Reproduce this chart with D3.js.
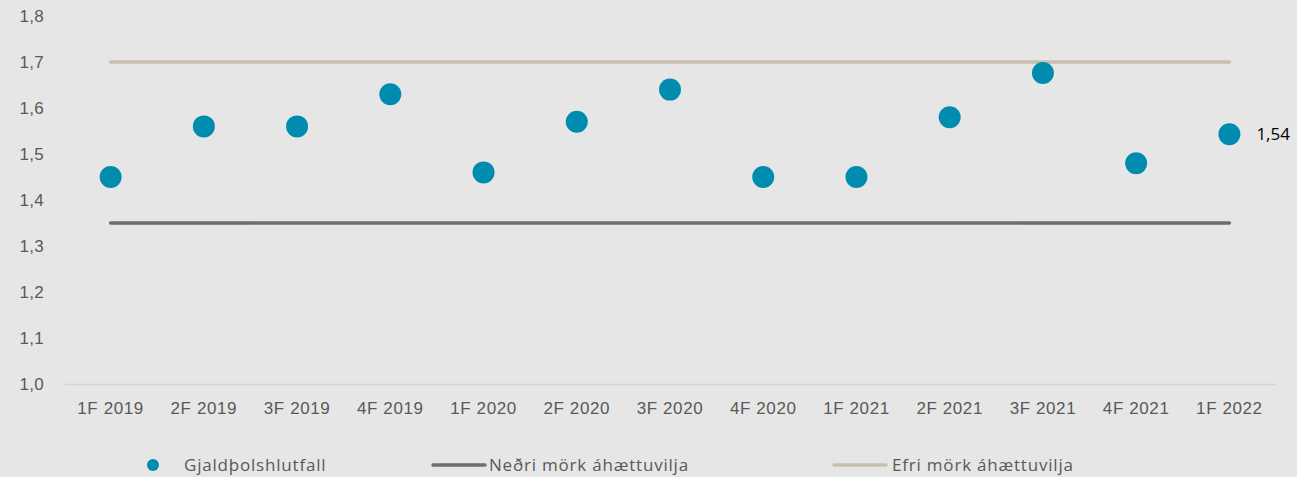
<!DOCTYPE html>
<html>
<head>
<meta charset="utf-8">
<script src="https://cdn.jsdelivr.net/npm/d3@7"></script>
<style>
  body { margin: 0; background: #e6e6e6; }
  svg { display: block; font-family: "Open Sans", "Noto Sans", sans-serif; }
</style>
</head>
<body>
<svg id="chart" width="1297" height="477"></svg>
<script>
// gögn
let categories = ['1F 2019', '2F 2019', '3F 2019', '4F 2019', '1F 2020', '2F 2020', '3F 2020', '4F 2020', '1F 2021', '2F 2021', '3F 2021', '4F 2021', '1F 2022'];
let ratio = [1.45, 1.56, 1.56, 1.63, 1.46, 1.57, 1.64, 1.45, 1.45, 1.58, 1.676, 1.48, 1.543];
let lowerLimit = [1.35, 1.35, 1.35, 1.35, 1.35, 1.35, 1.35, 1.35, 1.35, 1.35, 1.35, 1.35, 1.35];
let upperLimit = [1.7, 1.7, 1.7, 1.7, 1.7, 1.7, 1.7, 1.7, 1.7, 1.7, 1.7, 1.7, 1.7];
let yTicks = [1.0, 1.1, 1.2, 1.3, 1.4, 1.5, 1.6, 1.7, 1.8];
let seriesNames = ['Gjaldþolshlutfall', 'Neðri mörk áhættuvilja', 'Efri mörk áhættuvilja'];

const fmt = d3.format('.1f');
const comma = (v, f) => f(v).replace('.', ',');

const svg = d3.select('#chart');
svg.append('rect').attr('width', 1297).attr('height', 477).attr('fill', '#e6e6e6');

const x = d3.scaleBand().domain(categories).range([64, 1276]).padding(0);
const y = d3.scaleLinear().domain([1.0, 1.8]).range([384, 16]);
const cx = d => x(d) + x.bandwidth() / 2;

// y ás
svg.append('g')
    .attr('transform', 'translate(64,0)')
    .call(d3.axisLeft(y).tickValues(yTicks).tickSize(0).tickPadding(20).tickFormat(d => comma(d, fmt)))
    .call(g => g.select('.domain').remove())
    .selectAll('text')
    .attr('fill', '#595959')
    .attr('font-size', '17px')
    .attr('letter-spacing', '0.3px');

// x ás
svg.append('g')
    .attr('transform', 'translate(0,384)')
    .call(d3.axisBottom(x).tickSize(0).tickPadding(18))
    .call(g => g.select('.domain').attr('stroke', '#d4d4d4').attr('stroke-width', 1.5))
    .selectAll('text')
    .attr('fill', '#595959')
    .attr('font-size', '17px')
    .attr('letter-spacing', '0.6px');

const line = d3.line().x((d, i) => cx(categories[i])).y(d => y(d));

svg.append('path')
    .datum(upperLimit)
    .attr('d', line)
    .attr('fill', 'none')
    .attr('stroke', '#c8bfb0')
    .attr('stroke-width', 3.5)
    .attr('stroke-linecap', 'round');

svg.append('path')
    .datum(lowerLimit)
    .attr('d', line)
    .attr('fill', 'none')
    .attr('stroke', '#6e6e6e')
    .attr('stroke-width', 3.5)
    .attr('stroke-linecap', 'round');

svg.append('g')
    .selectAll('circle')
    .data(ratio)
    .enter()
    .append('circle')
    .attr('cx', (d, i) => cx(categories[i]))
    .attr('cy', d => y(d))
    .attr('r', 11)
    .attr('fill', '#008cae');

// gildi síðasta punkts
let last = ratio.length - 1;
svg.append('text')
    .attr('x', cx(categories[last]) + 27)
    .attr('y', y(ratio[last]))
    .attr('dy', '0.35em')
    .attr('font-size', '17px')
    .attr('fill', '#000')
    .text(comma(ratio[last], d3.format('.2f')));

// skýringar
const legend = svg.append('g').attr('font-size', '17px').attr('letter-spacing', '0.8px');
legend.append('circle').attr('cx', 153).attr('cy', 465).attr('r', 6).attr('fill', '#008cae');
legend.append('text').attr('x', 184).attr('y', 465).attr('dy', '0.35em').attr('fill', '#595959').text(seriesNames[0]);
legend.append('line').attr('x1', 433).attr('x2', 485).attr('y1', 465).attr('y2', 465)
    .attr('stroke', '#6e6e6e').attr('stroke-width', 3.5).attr('stroke-linecap', 'round');
legend.append('text').attr('x', 489).attr('y', 465).attr('dy', '0.35em').attr('fill', '#595959').text(seriesNames[1]);
legend.append('line').attr('x1', 834).attr('x2', 886).attr('y1', 465).attr('y2', 465)
    .attr('stroke', '#c8bfb0').attr('stroke-width', 3.5).attr('stroke-linecap', 'round');
legend.append('text').attr('x', 892).attr('y', 465).attr('dy', '0.35em').attr('fill', '#595959').text(seriesNames[2]);
</script>
</body>
</html>
